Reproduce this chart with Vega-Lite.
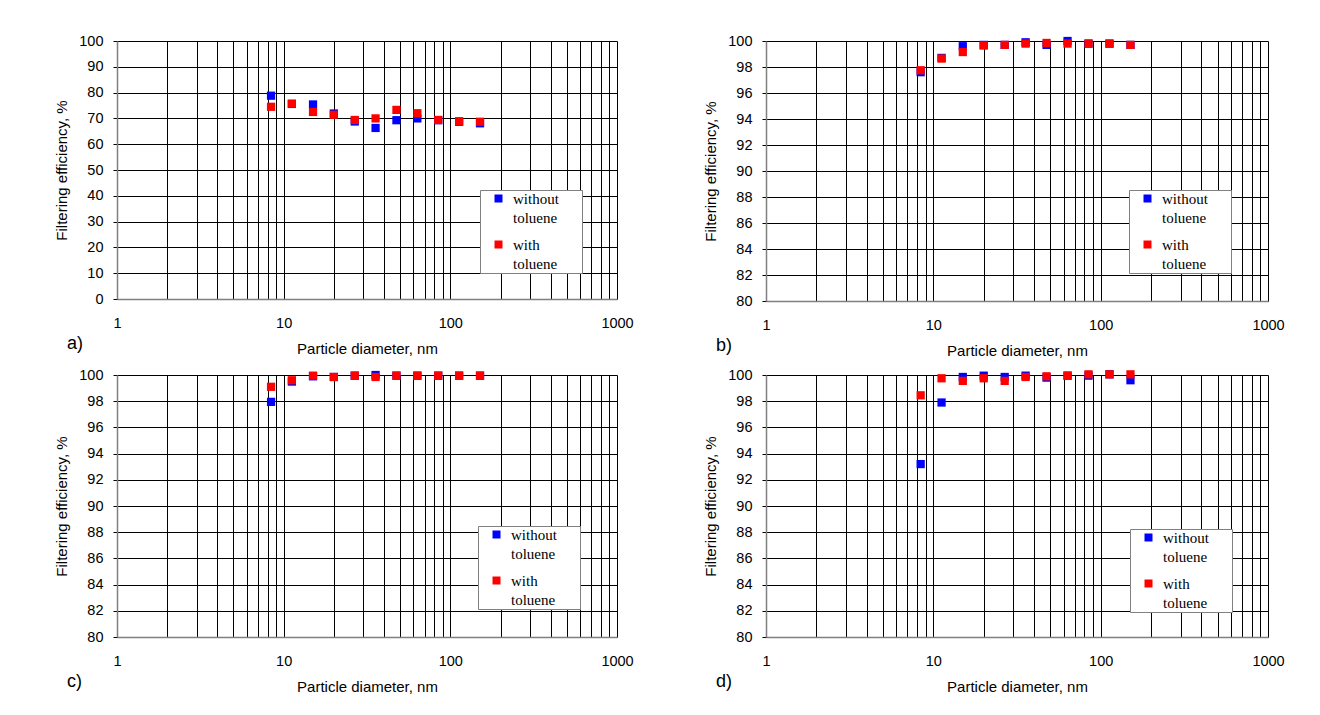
{
  "$schema": "https://vega.github.io/schema/vega-lite/v6.json",
  "background": "white",
  "padding": {"left": 54, "top": 33, "right": 0, "bottom": 0},
  "datasets": {
    "pts": [
      {"p": "a", "s": "without toluene", "d": 8.4, "e": 78.8},
      {"p": "a", "s": "without toluene", "d": 11.2, "e": 75.6},
      {"p": "a", "s": "without toluene", "d": 15.0, "e": 75.4},
      {"p": "a", "s": "without toluene", "d": 20.0, "e": 71.9},
      {"p": "a", "s": "without toluene", "d": 26.7, "e": 68.8},
      {"p": "a", "s": "without toluene", "d": 35.6, "e": 66.3},
      {"p": "a", "s": "without toluene", "d": 47.5, "e": 69.3},
      {"p": "a", "s": "without toluene", "d": 63.4, "e": 70.0},
      {"p": "a", "s": "without toluene", "d": 84.6, "e": 69.3},
      {"p": "a", "s": "without toluene", "d": 112.9, "e": 68.7},
      {"p": "a", "s": "without toluene", "d": 150.7, "e": 68.1},
      {"p": "a", "s": "with toluene", "d": 8.4, "e": 74.5},
      {"p": "a", "s": "with toluene", "d": 11.2, "e": 75.7},
      {"p": "a", "s": "with toluene", "d": 15.0, "e": 72.5},
      {"p": "a", "s": "with toluene", "d": 20.0, "e": 71.4},
      {"p": "a", "s": "with toluene", "d": 26.7, "e": 69.4},
      {"p": "a", "s": "with toluene", "d": 35.6, "e": 70.0},
      {"p": "a", "s": "with toluene", "d": 47.5, "e": 73.3},
      {"p": "a", "s": "with toluene", "d": 63.4, "e": 72.0},
      {"p": "a", "s": "with toluene", "d": 84.6, "e": 69.4},
      {"p": "a", "s": "with toluene", "d": 112.9, "e": 68.9},
      {"p": "a", "s": "with toluene", "d": 150.7, "e": 68.7},
      {"p": "b", "s": "without toluene", "d": 8.4, "e": 97.6},
      {"p": "b", "s": "without toluene", "d": 11.2, "e": 98.7},
      {"p": "b", "s": "without toluene", "d": 15.0, "e": 99.6},
      {"p": "b", "s": "without toluene", "d": 20.0, "e": 99.7},
      {"p": "b", "s": "without toluene", "d": 26.7, "e": 99.7},
      {"p": "b", "s": "without toluene", "d": 35.6, "e": 99.9},
      {"p": "b", "s": "without toluene", "d": 47.5, "e": 99.7},
      {"p": "b", "s": "without toluene", "d": 63.4, "e": 100.0},
      {"p": "b", "s": "without toluene", "d": 84.6, "e": 99.8},
      {"p": "b", "s": "without toluene", "d": 112.9, "e": 99.8},
      {"p": "b", "s": "without toluene", "d": 150.7, "e": 99.7},
      {"p": "b", "s": "with toluene", "d": 8.4, "e": 97.75},
      {"p": "b", "s": "with toluene", "d": 11.2, "e": 98.65},
      {"p": "b", "s": "with toluene", "d": 15.0, "e": 99.15},
      {"p": "b", "s": "with toluene", "d": 20.0, "e": 99.65},
      {"p": "b", "s": "with toluene", "d": 26.7, "e": 99.7},
      {"p": "b", "s": "with toluene", "d": 35.6, "e": 99.8},
      {"p": "b", "s": "with toluene", "d": 47.5, "e": 99.85},
      {"p": "b", "s": "with toluene", "d": 63.4, "e": 99.8},
      {"p": "b", "s": "with toluene", "d": 84.6, "e": 99.8},
      {"p": "b", "s": "with toluene", "d": 112.9, "e": 99.8},
      {"p": "b", "s": "with toluene", "d": 150.7, "e": 99.7},
      {"p": "c", "s": "without toluene", "d": 8.4, "e": 97.95},
      {"p": "c", "s": "without toluene", "d": 11.2, "e": 99.5},
      {"p": "c", "s": "without toluene", "d": 15.0, "e": 99.9},
      {"p": "c", "s": "without toluene", "d": 20.0, "e": 99.85},
      {"p": "c", "s": "without toluene", "d": 26.7, "e": 99.95},
      {"p": "c", "s": "without toluene", "d": 35.6, "e": 100.0},
      {"p": "c", "s": "without toluene", "d": 47.5, "e": 99.95},
      {"p": "c", "s": "without toluene", "d": 63.4, "e": 99.95},
      {"p": "c", "s": "without toluene", "d": 84.6, "e": 99.95},
      {"p": "c", "s": "without toluene", "d": 112.9, "e": 99.95},
      {"p": "c", "s": "without toluene", "d": 150.7, "e": 99.95},
      {"p": "c", "s": "with toluene", "d": 8.4, "e": 99.1},
      {"p": "c", "s": "with toluene", "d": 11.2, "e": 99.6},
      {"p": "c", "s": "with toluene", "d": 15.0, "e": 99.95},
      {"p": "c", "s": "with toluene", "d": 20.0, "e": 99.85},
      {"p": "c", "s": "with toluene", "d": 26.7, "e": 99.95},
      {"p": "c", "s": "with toluene", "d": 35.6, "e": 99.85},
      {"p": "c", "s": "with toluene", "d": 47.5, "e": 99.95},
      {"p": "c", "s": "with toluene", "d": 63.4, "e": 99.95},
      {"p": "c", "s": "with toluene", "d": 84.6, "e": 99.95},
      {"p": "c", "s": "with toluene", "d": 112.9, "e": 99.95},
      {"p": "c", "s": "with toluene", "d": 150.7, "e": 99.95},
      {"p": "d", "s": "without toluene", "d": 8.4, "e": 93.2},
      {"p": "d", "s": "without toluene", "d": 11.2, "e": 97.9},
      {"p": "d", "s": "without toluene", "d": 15.0, "e": 99.85},
      {"p": "d", "s": "without toluene", "d": 20.0, "e": 99.95},
      {"p": "d", "s": "without toluene", "d": 26.7, "e": 99.85},
      {"p": "d", "s": "without toluene", "d": 35.6, "e": 99.95},
      {"p": "d", "s": "without toluene", "d": 47.5, "e": 99.8},
      {"p": "d", "s": "without toluene", "d": 63.4, "e": 99.95},
      {"p": "d", "s": "without toluene", "d": 84.6, "e": 99.95},
      {"p": "d", "s": "without toluene", "d": 112.9, "e": 100.05},
      {"p": "d", "s": "without toluene", "d": 150.7, "e": 99.6},
      {"p": "d", "s": "with toluene", "d": 8.4, "e": 98.45},
      {"p": "d", "s": "with toluene", "d": 11.2, "e": 99.75},
      {"p": "d", "s": "with toluene", "d": 15.0, "e": 99.55},
      {"p": "d", "s": "with toluene", "d": 20.0, "e": 99.75},
      {"p": "d", "s": "with toluene", "d": 26.7, "e": 99.55},
      {"p": "d", "s": "with toluene", "d": 35.6, "e": 99.85},
      {"p": "d", "s": "with toluene", "d": 47.5, "e": 99.9},
      {"p": "d", "s": "with toluene", "d": 63.4, "e": 99.95},
      {"p": "d", "s": "with toluene", "d": 84.6, "e": 100.05},
      {"p": "d", "s": "with toluene", "d": 112.9, "e": 100.05},
      {"p": "d", "s": "with toluene", "d": 150.7, "e": 100.05}
    ]
  },
  "columns": 2,
  "spacing": {"row": 8, "column": 69},
  "resolve": {"scale": {"color": "independent", "y": "independent", "x": "independent"}, "legend": {"color": "independent"}},
  "concat": [
    {
      "width": 500, "height": 258,
      "data": {"name": "pts"},
      "transform": [{"filter": "datum.p == 'a'"}],
      "title": {"text": "a)"},
      "mark": {"type": "square", "size": 68, "opacity": 1, "clip": false},
      "encoding": {
        "x": {"field": "d", "type": "quantitative", "title": "Particle diameter, nm",
              "scale": {"type": "log", "domain": [1, 1000], "nice": false},
              "axis": {"values": [1,2,3,4,5,6,7,8,9,10,20,30,40,50,60,70,80,90,100,200,300,400,500,600,700,800,900,1000]}},
        "y": {"field": "e", "type": "quantitative", "title": "Filtering efficiency, %",
              "scale": {"domain": [0, 100], "nice": false, "zero": false},
              "axis": {"values": [0,10,20,30,40,50,60,70,80,90,100]}},
        "color": {"field": "s", "type": "nominal", "sort": ["without toluene", "with toluene"],
                  "scale": {"domain": ["without toluene", "with toluene"], "range": ["#0000ff", "#ff0000"]},
                  "legend": {"legendX": 363, "legendY": 149, "labelExpr": "datum.label == 'without toluene' ? ['without\u2800\u2800', 'toluene'] : ['with', 'toluene']"}},
        "order": {"field": "s", "sort": "descending"}
      }
    },
    {
      "width": 502, "height": 260,
      "data": {"name": "pts"},
      "transform": [{"filter": "datum.p == 'b'"}],
      "title": {"text": "b)"},
      "mark": {"type": "square", "size": 68, "opacity": 1, "clip": false},
      "encoding": {
        "x": {"field": "d", "type": "quantitative", "title": "Particle diameter, nm",
              "scale": {"type": "log", "domain": [1, 1000], "nice": false},
              "axis": {"values": [1,2,3,4,5,6,7,8,9,10,20,30,40,50,60,70,80,90,100,200,300,400,500,600,700,800,900,1000]}},
        "y": {"field": "e", "type": "quantitative", "title": "Filtering efficiency, %",
              "scale": {"domain": [80, 100], "nice": false, "zero": false},
              "axis": {"values": [80,82,84,86,88,90,92,94,96,98,100]}},
        "color": {"field": "s", "type": "nominal", "sort": ["without toluene", "with toluene"],
                  "scale": {"domain": ["without toluene", "with toluene"], "range": ["#0000ff", "#ff0000"]},
                  "legend": {"legendX": 363, "legendY": 149, "labelExpr": "datum.label == 'without toluene' ? ['without\u2800\u2800', 'toluene'] : ['with', 'toluene']"}},
        "order": {"field": "s", "sort": "descending"}
      }
    },
    {
      "width": 500, "height": 262,
      "data": {"name": "pts"},
      "transform": [{"filter": "datum.p == 'c'"}],
      "title": {"text": "c)"},
      "mark": {"type": "square", "size": 68, "opacity": 1, "clip": false},
      "encoding": {
        "x": {"field": "d", "type": "quantitative", "title": "Particle diameter, nm",
              "scale": {"type": "log", "domain": [1, 1000], "nice": false},
              "axis": {"values": [1,2,3,4,5,6,7,8,9,10,20,30,40,50,60,70,80,90,100,200,300,400,500,600,700,800,900,1000]}},
        "y": {"field": "e", "type": "quantitative", "title": "Filtering efficiency, %",
              "scale": {"domain": [80, 100], "nice": false, "zero": false},
              "axis": {"values": [80,82,84,86,88,90,92,94,96,98,100]}},
        "color": {"field": "s", "type": "nominal", "sort": ["without toluene", "with toluene"],
                  "scale": {"domain": ["without toluene", "with toluene"], "range": ["#0000ff", "#ff0000"]},
                  "legend": {"legendX": 361, "legendY": 151, "labelExpr": "datum.label == 'without toluene' ? ['without\u2800\u2800', 'toluene'] : ['with', 'toluene']"}},
        "order": {"field": "s", "sort": "descending"}
      }
    },
    {
      "width": 502, "height": 262,
      "data": {"name": "pts"},
      "transform": [{"filter": "datum.p == 'd'"}],
      "title": {"text": "d)"},
      "mark": {"type": "square", "size": 68, "opacity": 1, "clip": false},
      "encoding": {
        "x": {"field": "d", "type": "quantitative", "title": "Particle diameter, nm",
              "scale": {"type": "log", "domain": [1, 1000], "nice": false},
              "axis": {"values": [1,2,3,4,5,6,7,8,9,10,20,30,40,50,60,70,80,90,100,200,300,400,500,600,700,800,900,1000]}},
        "y": {"field": "e", "type": "quantitative", "title": "Filtering efficiency, %",
              "scale": {"domain": [80, 100], "nice": false, "zero": false},
              "axis": {"values": [80,82,84,86,88,90,92,94,96,98,100]}},
        "color": {"field": "s", "type": "nominal", "sort": ["without toluene", "with toluene"],
                  "scale": {"domain": ["without toluene", "with toluene"], "range": ["#0000ff", "#ff0000"]},
                  "legend": {"legendX": 364, "legendY": 154, "labelExpr": "datum.label == 'without toluene' ? ['without\u2800\u2800', 'toluene'] : ['with', 'toluene']"}},
        "order": {"field": "s", "sort": "descending"}
      }
    }
  ],
  "config": {
    "font": "Liberation Sans",
    "view": {"stroke": null},
    "style": {"guide-label": {"lineHeight": 19}},
    "title": {"orient": "bottom", "anchor": "start", "frame": "group", "offset": -22, "dx": -50,
              "font": "Liberation Sans", "fontSize": 18, "fontWeight": "normal", "color": "#000"},
    "axis": {
      "labelFont": "Liberation Sans", "labelFontSize": 14.5, "labelColor": "#000",
      "titleFont": "Liberation Sans", "titleFontSize": 15, "titleFontWeight": "normal", "titleColor": "#000",
      "domainColor": "#808080", "domainWidth": 1.5,
      "gridColor": "#000", "gridWidth": 1, "gridOpacity": 1,
      "tickColor": "#000", "tickSize": 5
    },
    "axisX": {
      "grid": true,
      "labelExpr": "indexof([1,10,100,1000], datum.value) >= 0 ? format(datum.value, 'd') : ''",
      "tickOpacity": {"condition": {"test": "indexof([1,10,100,1000], datum.value) >= 0", "value": 1}, "value": 0},
      "labelPadding": 12, "titlePadding": 12, "labelFlush": false, "labelOverlap": false
    },
    "axisY": {
      "grid": true, "tickSize": 4, "labelPadding": 10, "titlePadding": 9
    },
    "legend": {
      "orient": "none", "title": null,
      "strokeColor": "#808080", "fillColor": "white", "padding": 1,
      "symbolType": "square", "symbolSize": 64, "symbolStrokeWidth": 0, "symbolOpacity": 1, "symbolOffset": 10,
      "labelFont": "Liberation Serif", "labelFontSize": 15, "labelColor": "#000",
      "labelOffset": 7, "rowPadding": 11, "labelBaseline": "middle", "labelLimit": 200
    }
  }
}
